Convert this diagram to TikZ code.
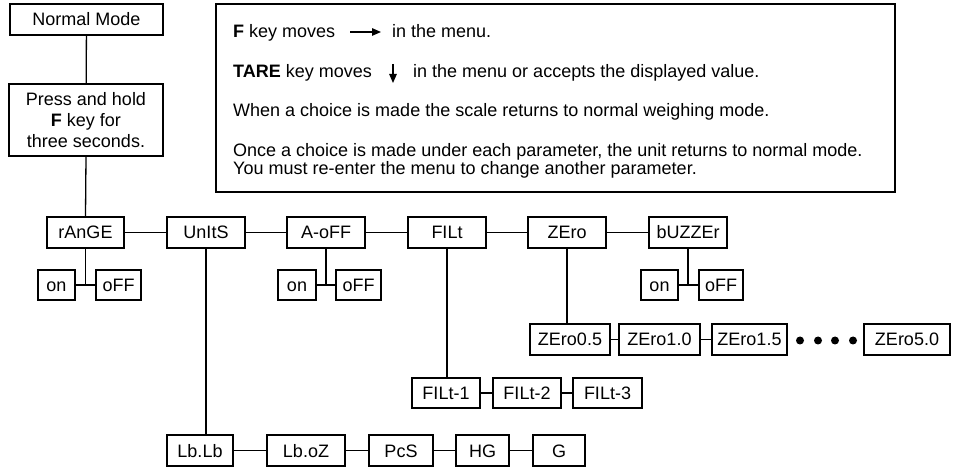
\documentclass[tikz,border=0pt]{standalone}
\usepackage{fontspec}
\setmainfont{Liberation Sans}
\usetikzlibrary{arrows.meta}
\begin{document}
\begin{tikzpicture}[x=1bp,y=-1bp,
  every node/.style={font=\fontsize{18bp}{21bp}\selectfont},
  box/.style={draw, line width=1.3bp, inner sep=0pt, minimum height=31bp, text height=13bp, text depth=0bp},
  sbox/.style={box, minimum height=30bp},
  conn/.style={line width=1.3bp},
  txt/.style={anchor=base west, inner sep=0pt},
  arr/.style={line width=1.3bp, -{Triangle[length=9bp,width=7.5bp]}}]
\useasboundingbox (0,0) rectangle (953,467);
% top left
\node[box, minimum width=153bp] (normal) at (86.5,19.5) {Normal Mode};
\node[draw, line width=1.3bp, minimum width=154bp, minimum height=72bp, inner sep=0pt, align=center] (press) at (86,120) {Press and hold\\\textbf{F} key for\\three seconds.};
% info box
\node[draw, line width=2.6bp, minimum width=679bp, minimum height=188bp, inner sep=0pt] (info) at (555.5,98) {};
\node[txt] (t1a) at (233,38) {\textbf{F} key moves};
\coordinate (a1s) at (350,32);
\coordinate (a1e) at (381,32);
\draw[arr] (a1s) -- (a1e);
\node[txt] (t1b) at (392,38) {in the menu.};
\node[txt] (t2a) at (233,78) {\textbf{TARE} key moves};
\coordinate (a2s) at (393,64);
\coordinate (a2e) at (393,83);
\draw[arr] (a2s) -- (a2e);
\node[txt] (t2b) at (413,78) {in the menu or accepts the displayed value.};
\node[txt] (t3) at (233,117) {When a choice is made the scale returns to normal weighing mode.};
\node[txt] (t4) at (233,157) {Once a choice is made under each parameter, the unit returns to normal mode.};
\node[txt] (t5) at (233,175) {You must re-enter the menu to change another parameter.};
% row 1
\node[box, minimum width=77bp] (range) at (85.5,232.5) {rAnGE};
\node[box, minimum width=78bp] (units) at (206,232.5) {UnItS};
\node[box, minimum width=78bp] (aoff) at (326,232.5) {A-oFF};
\node[box, minimum width=78bp] (filt) at (447,232.5) {FILt};
\node[box, minimum width=78bp] (zero) at (567,232.5) {ZEro};
\node[box, minimum width=78bp] (buzz) at (688,232.5) {bUZZEr};
% on/off
\node[sbox, minimum width=37bp] (on1) at (56.5,285) {on};
\node[sbox, minimum width=45bp] (off1) at (118.5,285) {oFF};
\node[sbox, minimum width=38bp] (on2) at (297,285) {on};
\node[sbox, minimum width=45bp] (off2) at (358.5,285) {oFF};
\node[sbox, minimum width=37bp] (on3) at (659.5,285) {on};
\node[sbox, minimum width=44bp] (off3) at (721,285) {oFF};
% zero row
\node[box, minimum width=80bp] (z05) at (570,339.5) {ZEro0.5};
\node[box, minimum width=81bp] (z10) at (659.5,339.5) {ZEro1.0};
\node[box, minimum width=75bp] (z15) at (749.5,339.5) {ZEro1.5};
\node[box, minimum width=86bp] (z50) at (907,339.5) {ZEro5.0};
\foreach \x in {800,818,835,853} \fill (\x,340.5) circle (4bp);
% filt row
\node[sbox, minimum width=68bp] (f1) at (446,393) {FILt-1};
\node[sbox, minimum width=68bp] (f2) at (527,393) {FILt-2};
\node[sbox, minimum width=69bp] (f3) at (607.5,393) {FILt-3};
% units row
\node[box, minimum width=66bp] (lblb) at (200,450.5) {Lb.Lb};
\node[box, minimum width=78bp] (lboz) at (306,450.5) {Lb.oZ};
\node[box, minimum width=64bp] (pcs) at (401,450.5) {PcS};
\node[box, minimum width=53bp] (hg) at (482.5,450.5) {HG};
\node[box, minimum width=52bp] (g) at (559,450.5) {G};
% connectors
\draw[conn] (normal) -- (press);
\draw[conn] (press.south) -- (range.north);
\draw[conn] (range) -- (units);
\draw[conn] (units) -- (aoff);
\draw[conn] (aoff) -- (filt);
\draw[conn] (filt) -- (zero);
\draw[conn] (zero) -- (buzz);
\draw[conn] (range.south) -- (range.south |- on1.east);
\draw[conn] (on1) -- (off1);
\draw[conn] (aoff.south) -- (aoff.south |- on2.east);
\draw[conn] (on2) -- (off2);
\draw[conn] (buzz.south) -- (buzz.south |- on3.east);
\draw[conn] (on3) -- (off3);
\draw[conn] (zero.south) -- (zero.south |- z05.north);
\draw[conn] (z05) -- (z10);
\draw[conn] (z10) -- (z15);
\draw[conn] (filt.south) -- (filt.south |- f1.north);
\draw[conn] (f1) -- (f2);
\draw[conn] (f2) -- (f3);
\draw[conn] (units.south) -- (units.south |- lblb.north);
\draw[conn] (lblb) -- (lboz);
\draw[conn] (lboz) -- (pcs);
\draw[conn] (pcs) -- (hg);
\draw[conn] (hg) -- (g);
\end{tikzpicture}
\end{document}
